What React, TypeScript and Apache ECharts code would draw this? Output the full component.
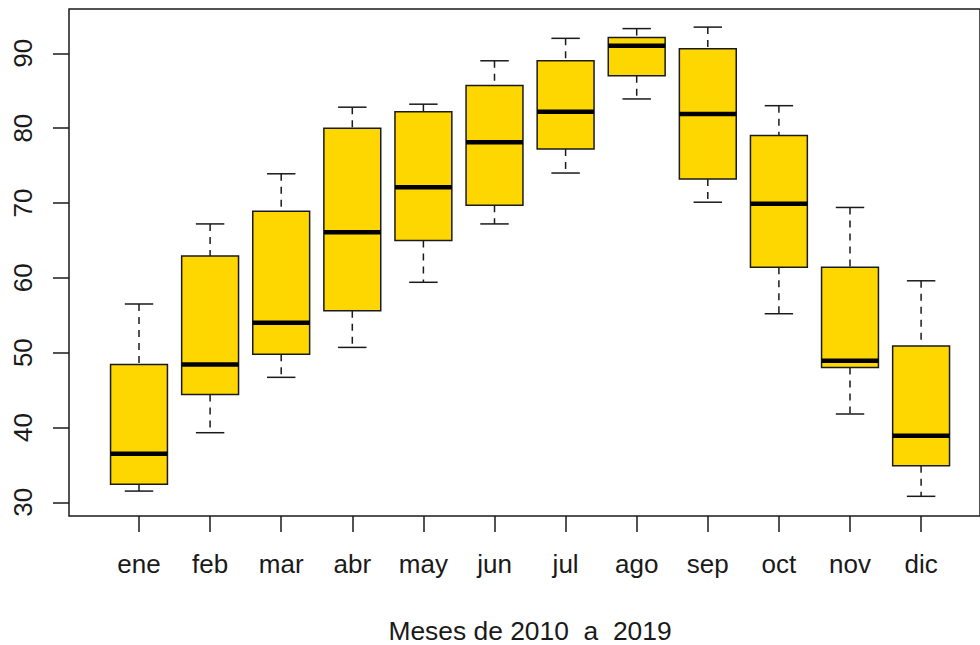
import React, { useEffect, useRef } from "react";
import * as echarts from "echarts";

const months = ["ene", "feb", "mar", "abr", "may", "jun", "jul", "ago", "sep", "oct", "nov", "dic"];
const lowWhisker = [31.5, 39.3, 46.7, 50.7, 59.4, 67.2, 74.0, 83.9, 70.1, 55.2, 41.8, 30.8];
const q1 = [32.4, 44.4, 49.8, 55.6, 65.0, 69.7, 77.2, 87.0, 73.2, 61.4, 48.0, 34.9];
const median = [36.5, 48.4, 54.0, 66.1, 72.1, 78.1, 82.2, 91.0, 81.9, 69.9, 48.9, 38.9];
const q3 = [48.4, 62.9, 68.9, 80.0, 82.2, 85.7, 89.0, 92.1, 90.6, 79.0, 61.4, 50.9];
const highWhisker = [56.5, 67.2, 73.9, 82.8, 83.2, 89.0, 92.0, 93.3, 93.5, 83.0, 69.4, 59.6];
const yTicks = [30, 40, 50, 60, 70, 80, 90];
const xTitle = "Meses de 2010  a  2019";

const FONT = "'Liberation Sans', Arial, sans-serif";
const INK = "#1a1a1a";
const Y_MIN = 28.17;
const Y_MAX = 95.92;

export default function App() {
  const ref = useRef<HTMLDivElement>(null);

  useEffect(() => {
    document.body.style.margin = "0";
    const chart = echarts.init(ref.current!, null, { renderer: "svg" });
    const data = months.map((_, i) => [i, lowWhisker[i], q1[i], median[i], q3[i], highWhisker[i]]);

    const renderItem = (params: any, api: any) => {
      const idx = api.value(0);
      const x = api.coord([idx, api.value(3)])[0];
      const band = api.size([1, 0])[0];
      const bw = band * 0.8;
      const cw = bw * 0.5;
      const yLow = api.coord([idx, api.value(1)])[1];
      const yQ1 = api.coord([idx, api.value(2)])[1];
      const yMed = api.coord([idx, api.value(3)])[1];
      const yQ3 = api.coord([idx, api.value(4)])[1];
      const yHigh = api.coord([idx, api.value(5)])[1];
      const dashed = { stroke: INK, lineWidth: 1.5, lineDash: [7, 6], fill: null };
      const solid = { stroke: INK, lineWidth: 1.5, fill: null };
      return {
        type: "group",
        children: [
          { type: "line", shape: { x1: x, y1: yHigh, x2: x, y2: yQ3 }, style: dashed },
          { type: "line", shape: { x1: x, y1: yQ1, x2: x, y2: yLow }, style: dashed },
          { type: "line", shape: { x1: x - cw / 2, y1: yHigh, x2: x + cw / 2, y2: yHigh }, style: solid },
          { type: "line", shape: { x1: x - cw / 2, y1: yLow, x2: x + cw / 2, y2: yLow }, style: solid },
          {
            type: "rect",
            shape: { x: x - bw / 2, y: yQ3, width: bw, height: yQ1 - yQ3 },
            style: { fill: "#FFD700", stroke: INK, lineWidth: 1.5 },
          },
          {
            type: "line",
            shape: { x1: x - bw / 2, y1: yMed, x2: x + bw / 2, y2: yMed },
            style: { stroke: "#000", lineWidth: 4.5 },
          },
        ],
      };
    };

    const bandW = 71.1;
    const firstX = 139;
    chart.setOption({
      animation: false,
      backgroundColor: "#fff",
      grid: [
        {
          left: 69, top: 9, width: 923, height: 507,
          show: true, borderColor: INK, borderWidth: 1.5, backgroundColor: "transparent",
        },
        {
          left: firstX - bandW / 2, top: 9, width: bandW * 12, height: 507,
        },
      ],
      xAxis: [
        { type: "value", gridIndex: 0, show: false, min: 0, max: 1 },
        {
          type: "category",
          gridIndex: 1,
          data: months,
          boundaryGap: true,
          axisLine: { show: false },
          axisTick: { show: true, alignWithLabel: true, length: 16, lineStyle: { color: INK, width: 1.5 } },
          axisLabel: { fontSize: 26, fontFamily: FONT, color: INK, margin: 35, interval: 0 },
          splitLine: { show: false },
        },
      ],
      yAxis: [
        {
          type: "value",
          gridIndex: 0,
          min: Y_MIN,
          max: Y_MAX,
          axisLine: { show: false },
          axisTick: { show: true, length: 16, customValues: yTicks, lineStyle: { color: INK, width: 1.5 } },
          axisLabel: {
            fontSize: 26, fontFamily: FONT, color: INK, rotate: 90, margin: 33, customValues: yTicks,
          },
          splitLine: { show: false },
        },
        { type: "value", gridIndex: 1, min: Y_MIN, max: Y_MAX, show: false },
      ],
      series: [
        {
          type: "custom",
          xAxisIndex: 1,
          yAxisIndex: 1,
          renderItem,
          data,
          encode: { x: 0, y: [1, 2, 3, 4, 5] },
          clip: false,
        },
      ],
      graphic: [
        {
          type: "text",
          x: 530,
          y: 631,
          style: {
            text: xTitle,
            fontSize: 26.4,
            fontFamily: FONT,
            fill: INK,
            textAlign: "center",
            textVerticalAlign: "middle",
          },
        },
      ],
    });
    return () => chart.dispose();
  }, []);

  return <div ref={ref} style={{ width: 980, height: 645 }} />;
}
